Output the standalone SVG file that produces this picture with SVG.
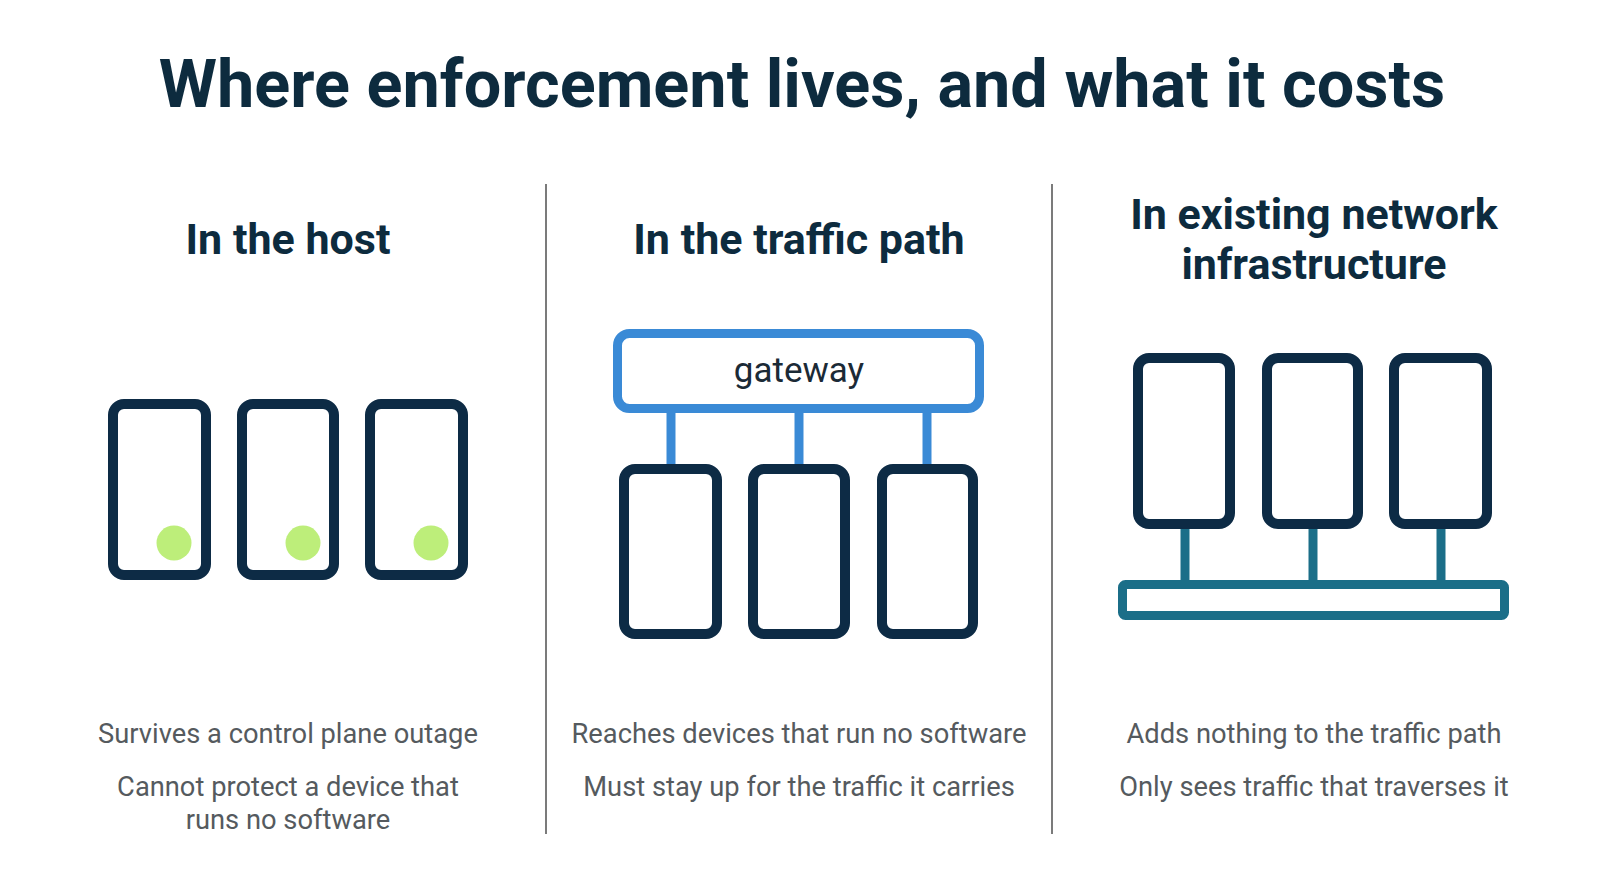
<svg xmlns="http://www.w3.org/2000/svg" width="1598" height="893" viewBox="0 0 1598 893">
<style>
.title{font-family:Roboto,"Liberation Sans",sans-serif;font-weight:700;font-size:66.6px;fill:#0d2b3e;text-anchor:middle}
.head{font-family:Roboto,"Liberation Sans",sans-serif;font-weight:700;font-size:43px;fill:#0d2b3e;text-anchor:middle}
.note{font-family:Roboto,"Liberation Sans",sans-serif;font-size:27.3px;fill:#555a5e;text-anchor:middle}
.gw{font-family:Roboto,"Liberation Sans",sans-serif;font-size:35px;fill:#1b2a36;text-anchor:middle}
.dev{fill:#ffffff;stroke:#0d2b45;stroke-width:10}
.dot{fill:#bdee7a}
.div{stroke:#5a5a5a;stroke-width:1.6}
.blue{stroke:#3a8ad6;stroke-width:9;fill:none}
.teal{stroke:#1b6e88;stroke-width:9;fill:none}
</style>
<rect width="1598" height="893" fill="#ffffff"/>
<text class="title" x="802" y="107">Where enforcement lives, and what it costs</text>
<g id="dividers">
<line class="div" x1="546" y1="184" x2="546" y2="834"/>
<line class="div" x1="1052" y1="184" x2="1052" y2="834"/>
</g>
<g id="col-host">
<text class="head" x="288" y="254">In the host</text>
<g id="host-dev1"><rect class="dev" x="113" y="404" width="93" height="171" rx="11"/><circle class="dot" cx="174" cy="543" r="17.5"/></g>
<g id="host-dev2"><rect class="dev" x="242" y="404" width="92" height="171" rx="11"/><circle class="dot" cx="303" cy="543" r="17.5"/></g>
<g id="host-dev3"><rect class="dev" x="370" y="404" width="93" height="171" rx="11"/><circle class="dot" cx="431" cy="543" r="17.5"/></g>
<text class="note" x="288" y="743">Survives a control plane outage</text>
<text class="note" x="288" y="796">Cannot protect a device that</text>
<text class="note" x="288" y="829">runs no software</text>
</g>
<g id="col-path">
<text class="head" x="799" y="254">In the traffic path</text>
<g id="gateway"><rect class="blue" x="617.5" y="333.5" width="362" height="75" rx="12" fill="#ffffff"/><text class="gw" x="799" y="382">gateway</text></g>
<g id="path-dev1"><rect class="dev" x="624" y="469" width="93" height="165" rx="11"/></g>
<g id="path-dev2"><rect class="dev" x="753" y="469" width="92" height="165" rx="11"/></g>
<g id="path-dev3"><rect class="dev" x="882" y="469" width="91" height="165" rx="11"/></g>
<text class="note" x="799" y="743">Reaches devices that run no software</text>
<text class="note" x="799" y="796">Must stay up for the traffic it carries</text>
</g>
<g id="col-infra">
<text class="head" x="1314" y="229">In existing network</text>
<text class="head" x="1314" y="279">infrastructure</text>
<g id="infra-dev1"><rect class="dev" x="1138" y="358" width="92" height="166" rx="11"/></g>
<g id="infra-dev2"><rect class="dev" x="1267" y="358" width="91" height="166" rx="11"/></g>
<g id="infra-dev3"><rect class="dev" x="1394" y="358" width="93" height="166" rx="11"/></g>
<g id="infra-bar"><rect class="teal" x="1122.5" y="584.5" width="382" height="31" rx="3"/></g>
<text class="note" x="1314" y="743">Adds nothing to the traffic path</text>
<text class="note" x="1314" y="796">Only sees traffic that traverses it</text>
</g>
<g id="connectors">
<line class="blue" x1="671" y1="411" x2="671" y2="464"/>
<line class="blue" x1="799" y1="411" x2="799" y2="464"/>
<line class="blue" x1="927" y1="411" x2="927" y2="464"/>
<line class="teal" x1="1185" y1="529" x2="1185" y2="580"/>
<line class="teal" x1="1313" y1="529" x2="1313" y2="580"/>
<line class="teal" x1="1441" y1="529" x2="1441" y2="580"/>
</g>
</svg>
